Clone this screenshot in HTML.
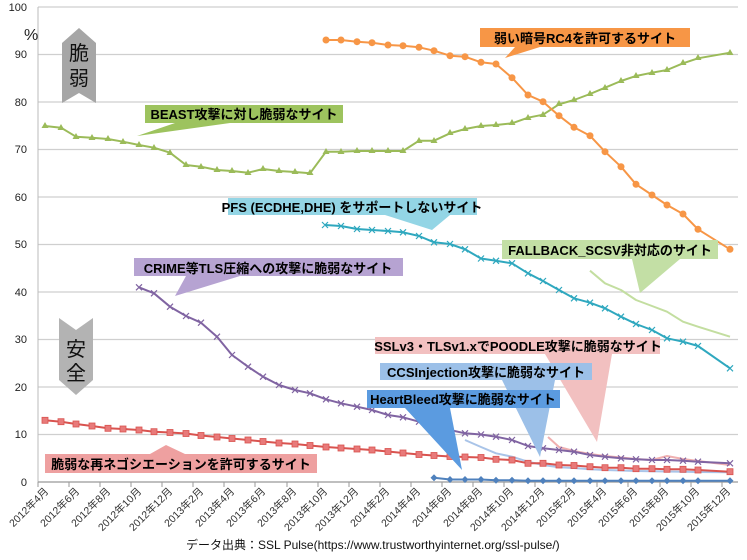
<!DOCTYPE html>
<html><head><meta charset="utf-8"><style>
html,body{margin:0;padding:0;background:#fff;}
svg{display:block;font-family:"Liberation Sans","Noto Sans CJK JP",sans-serif;}
.cl{font-weight:bold;font-size:13px;fill:#000;}
</style></head><body>
<svg width="747" height="560" viewBox="0 0 747 560" xmlns="http://www.w3.org/2000/svg">
<defs>
<g id="tri"><path d="M0,-3.5 L3.5,2.5 L-3.5,2.5Z" fill="#9bbb59"/></g>
</defs>
<!-- grid -->
<g stroke="#cfcfcf" stroke-width="1.2">
<line x1="38" y1="7" x2="738" y2="7"/><line x1="38" y1="54.5" x2="738" y2="54.5"/><line x1="38" y1="102" x2="738" y2="102"/><line x1="38" y1="149.5" x2="738" y2="149.5"/><line x1="38" y1="197" x2="738" y2="197"/><line x1="38" y1="244.5" x2="738" y2="244.5"/><line x1="38" y1="292" x2="738" y2="292"/><line x1="38" y1="339.5" x2="738" y2="339.5"/><line x1="38" y1="387" x2="738" y2="387"/><line x1="38" y1="434.5" x2="738" y2="434.5"/>
</g>
<line x1="38" y1="7" x2="38" y2="482" stroke="#bbb"/>
<line x1="38" y1="482" x2="738" y2="482" stroke="#999" stroke-width="1.2"/>
<g stroke="#999">
<path d="M38,482v5M69,482v5M100,482v5M131,482v5M162,482v5M193,482v5M224,482v5M255,482v5M287,482v5M318,482v5M349,482v5M380,482v5M411,482v5M442,482v5M473,482v5M504,482v5M535,482v5M566,482v5M597,482v5M628,482v5M660,482v5M691,482v5M722,482v5"/>
</g>
<!-- y labels -->
<g font-size="11" fill="#222" text-anchor="end">
<text x="27" y="11">100</text><text x="27" y="58">90</text><text x="27" y="106">80</text><text x="27" y="153">70</text><text x="27" y="201">60</text><text x="27" y="248">50</text><text x="27" y="296">40</text><text x="27" y="343">30</text><text x="27" y="391">20</text><text x="27" y="438">10</text><text x="27" y="486">0</text>
</g>
<text x="24" y="40" font-size="16" fill="#222">%</text>
<!-- x labels -->
<g font-size="10.5" fill="#333" text-anchor="end">
<text transform="translate(49,492) rotate(-45)">2012年4月</text>
<text transform="translate(80,492) rotate(-45)">2012年6月</text>
<text transform="translate(111,492) rotate(-45)">2012年8月</text>
<text transform="translate(142,492) rotate(-45)">2012年10月</text>
<text transform="translate(173,492) rotate(-45)">2012年12月</text>
<text transform="translate(204,492) rotate(-45)">2013年2月</text>
<text transform="translate(235,492) rotate(-45)">2013年4月</text>
<text transform="translate(266,492) rotate(-45)">2013年6月</text>
<text transform="translate(297,492) rotate(-45)">2013年8月</text>
<text transform="translate(328,492) rotate(-45)">2013年10月</text>
<text transform="translate(359,492) rotate(-45)">2013年12月</text>
<text transform="translate(390,492) rotate(-45)">2014年2月</text>
<text transform="translate(421,492) rotate(-45)">2014年4月</text>
<text transform="translate(452,492) rotate(-45)">2014年6月</text>
<text transform="translate(483,492) rotate(-45)">2014年8月</text>
<text transform="translate(514,492) rotate(-45)">2014年10月</text>
<text transform="translate(545,492) rotate(-45)">2014年12月</text>
<text transform="translate(576,492) rotate(-45)">2015年2月</text>
<text transform="translate(607,492) rotate(-45)">2015年4月</text>
<text transform="translate(638,492) rotate(-45)">2015年6月</text>
<text transform="translate(669,492) rotate(-45)">2015年8月</text>
<text transform="translate(700,492) rotate(-45)">2015年10月</text>
<text transform="translate(731,492) rotate(-45)">2015年12月</text>
</g>
<text x="186" y="549" font-size="12" fill="#111">データ出典：SSL Pulse(https://www.trustworthyinternet.org/ssl-pulse/)</text>

<!-- gray arrows -->
<path d="M79,28 L96,43 L96,103 L79,93 L62,103 L62,43Z" fill="#a6a6a6"/>
<text x="79" y="60" font-size="20" text-anchor="middle" fill="#111">脆</text>
<text x="79" y="85" font-size="20" text-anchor="middle" fill="#111">弱</text>
<path d="M59,318 L76,330 L93,318 L93,380 L76,395 L59,380Z" fill="#b3b3b3"/>
<text x="76" y="356" font-size="20" text-anchor="middle" fill="#111">安</text>
<text x="76" y="380" font-size="20" text-anchor="middle" fill="#111">全</text>

<!-- series -->
<g fill="none" stroke-linejoin="round" stroke-width="2">
<polyline stroke="#f0b0b0" points="548,437 559,447 574,451 590,454 605,456 621,457.5 636,459 652,460 667,456 683,459 698,461 730,465"/>
<polyline stroke="#a9c4e8" points="465,440 481,447 496,453.3 512,456.7 528,461.7 543,465 559,467.3 574,468 590,469.3 605,470 621,470.5 636,471 652,471.3 667,471.5 683,471.8 698,472 730,472.3"/>
<polyline stroke="#c3dea0" points="590,270.7 605,283.3 621,290 636,300 652,306 667,311.7 683,321.7 698,326.7 730,336.7"/>
<polyline id="pg" stroke="#9bbb59" points="45,126 61,127.7 76,136.7 92,137.7 108,139 123,141.7 139,145 154,147.7 170,152.7 186,165 201,166.7 217,170 232,171 248,172.7 263,169 279,171 295,172 310,173.3 326,151.7 341,151.7 357,151 372,151 388,151 403,151 419,140.7 434,140.7 450,133.3 465,129 481,126 496,125 512,123.3 528,117.7 543,114.7 559,104.3 574,100 590,94 605,87.7 621,81 636,76 652,72.7 667,70 683,63.3 698,58.3 730,52.7"/>
<polyline stroke="#f79646" points="326,40 341,40 357,41.7 372,42.7 388,45 403,45.7 419,47.3 434,50.7 450,55.7 465,56.7 481,62.3 496,64 512,77.7 528,95 543,101.7 559,115.7 574,127.3 590,135.7 605,151.7 621,166.7 636,184.3 652,195 667,205 683,214 698,229.3 730,249.3"/>
<polyline stroke="#2fa8bf" points="325,225 341,226 357,229 372,230 388,231 403,232.3 419,236 434,242.3 450,244 465,249.3 481,258.5 496,260.8 512,263.3 528,273.3 543,281 559,290 574,298.3 590,302.7 605,308.3 621,316.7 636,324 652,330 667,338.3 683,341.7 698,346 730,368.3"/>
<polyline stroke="#8064a2" points="139,287.3 154,293.3 170,306.7 186,316 201,322.7 217,336.7 232,355 248,366.7 263,376.7 279,385 295,390 310,393.3 326,399.3 341,403.3 357,406.7 372,410 388,415 403,417.3 419,421.7 434,425 450,430 465,433.3 481,434.5 496,436.7 512,440 528,446 543,448.3 559,450 574,451.7 590,455 605,456.7 621,458.3 636,459.3 652,460 667,460 683,460.7 698,461.7 730,463.3"/>
<polyline stroke="#d9534f" points="45,420.3 61,421.7 76,424 92,426 108,428.3 123,429 139,430 154,431.7 170,432.5 186,433.5 201,435.5 217,437 232,438.5 248,440 263,441.5 279,443 295,444 310,445.5 326,447 341,448 357,449 372,450 388,451.5 403,453 419,454.5 434,455.5 450,456.5 465,457 481,457.5 496,459.3 512,460 528,463.3 543,463.3 559,465 574,465.5 590,466.7 605,467.7 621,467.7 636,468.7 652,468.7 667,469.3 683,469.3 698,470 730,471.7"/>
<polyline stroke="#4f81bd" points="434,477.7 450,479.5 465,479.5 481,479.5 496,480.3 512,480.3 528,480.8 543,480.8 559,480.8 574,480.8 590,480.8 605,480.8 621,480.8 636,480.8 652,480.8 667,480.8 683,480.8 698,480.8 730,480.8"/>
</g>
<!-- markers -->
<g fill="#9bbb59">
<path d="M45,122l3.5,6h-7zM61,124l3.5,6h-7zM76,133l3.5,6h-7zM92,134l3.5,6h-7zM108,135l3.5,6h-7zM123,138l3.5,6h-7zM139,141l3.5,6h-7zM154,144l3.5,6h-7zM170,149l3.5,6h-7zM186,161l3.5,6h-7zM201,163l3.5,6h-7zM217,166l3.5,6h-7zM232,167l3.5,6h-7zM248,169l3.5,6h-7zM263,165l3.5,6h-7zM279,167l3.5,6h-7zM295,168l3.5,6h-7zM310,169l3.5,6h-7zM326,148l3.5,6h-7zM341,148l3.5,6h-7zM357,147l3.5,6h-7zM372,147l3.5,6h-7zM388,147l3.5,6h-7zM403,147l3.5,6h-7zM419,137l3.5,6h-7zM434,137l3.5,6h-7zM450,129l3.5,6h-7zM465,125l3.5,6h-7zM481,122l3.5,6h-7zM496,121l3.5,6h-7zM512,119l3.5,6h-7zM528,114l3.5,6h-7zM543,111l3.5,6h-7zM559,100l3.5,6h-7zM574,96l3.5,6h-7zM590,90l3.5,6h-7zM605,84l3.5,6h-7zM621,77l3.5,6h-7zM636,72l3.5,6h-7zM652,69l3.5,6h-7zM667,66l3.5,6h-7zM683,59l3.5,6h-7zM698,54l3.5,6h-7zM730,49l3.5,6h-7z"/>
</g>
<g fill="#f79646">
<circle cx="326" cy="40" r="3.5"/><circle cx="341" cy="40" r="3.5"/><circle cx="357" cy="41.7" r="3.5"/><circle cx="372" cy="42.7" r="3.5"/><circle cx="388" cy="45" r="3.5"/><circle cx="403" cy="45.7" r="3.5"/><circle cx="419" cy="47.3" r="3.5"/><circle cx="434" cy="50.7" r="3.5"/><circle cx="450" cy="55.7" r="3.5"/><circle cx="465" cy="56.7" r="3.5"/><circle cx="481" cy="62.3" r="3.5"/><circle cx="496" cy="64" r="3.5"/><circle cx="512" cy="77.7" r="3.5"/><circle cx="528" cy="95" r="3.5"/><circle cx="543" cy="101.7" r="3.5"/><circle cx="559" cy="115.7" r="3.5"/><circle cx="574" cy="127.3" r="3.5"/><circle cx="590" cy="135.7" r="3.5"/><circle cx="605" cy="151.7" r="3.5"/><circle cx="621" cy="166.7" r="3.5"/><circle cx="636" cy="184.3" r="3.5"/><circle cx="652" cy="195" r="3.5"/><circle cx="667" cy="205" r="3.5"/><circle cx="683" cy="214" r="3.5"/><circle cx="698" cy="229.3" r="3.5"/><circle cx="730" cy="249.3" r="3.5"/>
</g>
<g fill="#e87a7a" stroke="#d9534f" stroke-width="0.8">
<rect x="42" y="417.3" width="6" height="6"/><rect x="58" y="418.7" width="6" height="6"/><rect x="73" y="421" width="6" height="6"/><rect x="89" y="423" width="6" height="6"/><rect x="105" y="425.3" width="6" height="6"/><rect x="120" y="426" width="6" height="6"/><rect x="136" y="427" width="6" height="6"/><rect x="151" y="428.7" width="6" height="6"/><rect x="167" y="429.5" width="6" height="6"/><rect x="183" y="430.5" width="6" height="6"/><rect x="198" y="432.5" width="6" height="6"/><rect x="214" y="434" width="6" height="6"/><rect x="229" y="435.5" width="6" height="6"/><rect x="245" y="437" width="6" height="6"/><rect x="260" y="438.5" width="6" height="6"/><rect x="276" y="440" width="6" height="6"/><rect x="292" y="441" width="6" height="6"/><rect x="307" y="442.5" width="6" height="6"/><rect x="323" y="444" width="6" height="6"/><rect x="338" y="445" width="6" height="6"/><rect x="354" y="446" width="6" height="6"/><rect x="369" y="447" width="6" height="6"/><rect x="385" y="448.5" width="6" height="6"/><rect x="400" y="450" width="6" height="6"/><rect x="416" y="451.5" width="6" height="6"/><rect x="431" y="452.5" width="6" height="6"/><rect x="447" y="453.5" width="6" height="6"/><rect x="462" y="454" width="6" height="6"/><rect x="478" y="454.5" width="6" height="6"/><rect x="493" y="456.3" width="6" height="6"/><rect x="509" y="457" width="6" height="6"/><rect x="525" y="460.3" width="6" height="6"/><rect x="540" y="460.3" width="6" height="6"/><rect x="556" y="462" width="6" height="6"/><rect x="571" y="462.5" width="6" height="6"/><rect x="587" y="463.7" width="6" height="6"/><rect x="602" y="464.7" width="6" height="6"/><rect x="618" y="464.7" width="6" height="6"/><rect x="633" y="465.7" width="6" height="6"/><rect x="649" y="465.7" width="6" height="6"/><rect x="664" y="466.3" width="6" height="6"/><rect x="680" y="466.3" width="6" height="6"/><rect x="695" y="467" width="6" height="6"/><rect x="727" y="468.7" width="6" height="6"/>
</g>
<g stroke="#8064a2" stroke-width="1.2">
<path d="M136,284.3l6,6m0,-6l-6,6M151,290.3l6,6m0,-6l-6,6M167,303.7l6,6m0,-6l-6,6M183,313l6,6m0,-6l-6,6M198,319.7l6,6m0,-6l-6,6M214,333.7l6,6m0,-6l-6,6M229,352l6,6m0,-6l-6,6M245,363.7l6,6m0,-6l-6,6M260,373.7l6,6m0,-6l-6,6M276,382l6,6m0,-6l-6,6M292,387l6,6m0,-6l-6,6M307,390.3l6,6m0,-6l-6,6M323,396.3l6,6m0,-6l-6,6M338,400.3l6,6m0,-6l-6,6M354,403.7l6,6m0,-6l-6,6M369,407l6,6m0,-6l-6,6M385,412l6,6m0,-6l-6,6M400,414.3l6,6m0,-6l-6,6M416,418.7l6,6m0,-6l-6,6M431,422l6,6m0,-6l-6,6M447,427l6,6m0,-6l-6,6M462,430.3l6,6m0,-6l-6,6M478,431.5l6,6m0,-6l-6,6M493,433.7l6,6m0,-6l-6,6M509,437l6,6m0,-6l-6,6M525,443l6,6m0,-6l-6,6M540,445.3l6,6m0,-6l-6,6M556,447l6,6m0,-6l-6,6M571,448.7l6,6m0,-6l-6,6M587,452l6,6m0,-6l-6,6M602,453.7l6,6m0,-6l-6,6M618,455.3l6,6m0,-6l-6,6M633,456.3l6,6m0,-6l-6,6M649,457l6,6m0,-6l-6,6M664,457l6,6m0,-6l-6,6M680,457.7l6,6m0,-6l-6,6M695,458.7l6,6m0,-6l-6,6M727,460.3l6,6m0,-6l-6,6"/>
</g>
<g stroke="#2fa8bf" stroke-width="1.2">
<path d="M322,222l6,6m0,-6l-6,6M338,223l6,6m0,-6l-6,6M354,226l6,6m0,-6l-6,6M369,227l6,6m0,-6l-6,6M385,228l6,6m0,-6l-6,6M400,229.3l6,6m0,-6l-6,6M416,233l6,6m0,-6l-6,6M431,239.3l6,6m0,-6l-6,6M447,241l6,6m0,-6l-6,6M462,246.3l6,6m0,-6l-6,6M478,255.5l6,6m0,-6l-6,6M493,257.8l6,6m0,-6l-6,6M509,260.3l6,6m0,-6l-6,6M525,270.3l6,6m0,-6l-6,6M540,278l6,6m0,-6l-6,6M556,287l6,6m0,-6l-6,6M571,295.3l6,6m0,-6l-6,6M587,299.7l6,6m0,-6l-6,6M602,305.3l6,6m0,-6l-6,6M618,313.7l6,6m0,-6l-6,6M633,321l6,6m0,-6l-6,6M649,327l6,6m0,-6l-6,6M664,335.3l6,6m0,-6l-6,6M680,338.7l6,6m0,-6l-6,6M695,343l6,6m0,-6l-6,6M727,365.3l6,6m0,-6l-6,6"/>
</g>
<g fill="#4f81bd">
<path d="M434,474.2l3.5,3.5l-3.5,3.5l-3.5,-3.5zM450,476l3.5,3.5l-3.5,3.5l-3.5,-3.5zM465,476l3.5,3.5l-3.5,3.5l-3.5,-3.5zM481,476l3.5,3.5l-3.5,3.5l-3.5,-3.5zM496,476.8l3.5,3.5l-3.5,3.5l-3.5,-3.5zM512,476.8l3.5,3.5l-3.5,3.5l-3.5,-3.5zM528,477.3l3.5,3.5l-3.5,3.5l-3.5,-3.5zM543,477.3l3.5,3.5l-3.5,3.5l-3.5,-3.5zM559,477.3l3.5,3.5l-3.5,3.5l-3.5,-3.5zM574,477.3l3.5,3.5l-3.5,3.5l-3.5,-3.5zM590,477.3l3.5,3.5l-3.5,3.5l-3.5,-3.5zM605,477.3l3.5,3.5l-3.5,3.5l-3.5,-3.5zM621,477.3l3.5,3.5l-3.5,3.5l-3.5,-3.5zM636,477.3l3.5,3.5l-3.5,3.5l-3.5,-3.5zM652,477.3l3.5,3.5l-3.5,3.5l-3.5,-3.5zM667,477.3l3.5,3.5l-3.5,3.5l-3.5,-3.5zM683,477.3l3.5,3.5l-3.5,3.5l-3.5,-3.5zM698,477.3l3.5,3.5l-3.5,3.5l-3.5,-3.5zM730,477.3l3.5,3.5l-3.5,3.5l-3.5,-3.5z"/>
</g>

<!-- callouts -->
<path d="M480,28H690V47H540L505,58L515,47H480Z" fill="#f79646"/>
<text class="cl" x="585" y="43" text-anchor="middle">弱い暗号RC4を許可するサイト</text>

<path d="M145,105H343V123H230L137,136L175,123H145Z" fill="#9dc35e"/>
<text class="cl" x="244" y="119" text-anchor="middle">BEAST攻撃に対し脆弱なサイト</text>

<path d="M228,198H477V215H450L432,230L385,215H228Z" fill="#93d5e5"/>
<text class="cl" x="352" y="212" text-anchor="middle">PFS (ECDHE,DHE) をサポートしないサイト</text>

<path d="M502,240H718V259H680L640,293L632,259H502Z" fill="#c3dfa5"/>
<text class="cl" x="610" y="255" text-anchor="middle">FALLBACK_SCSV非対応のサイト</text>

<path d="M134,258H403V276H240L175,296L186,276H134Z" fill="#b6a3d2"/>
<text class="cl" x="268" y="273" text-anchor="middle">CRIME等TLS圧縮への攻撃に脆弱なサイト</text>

<path d="M375,337H660V354H612L597,442L545,354H375Z" fill="#f2c0c0"/>
<text class="cl" x="518" y="351" text-anchor="middle">SSLv3・TLSv1.xでPOODLE攻撃に脆弱なサイト</text>

<path d="M380,363H592V380H555L540,457L502,380H380Z" fill="#9cc0e8"/>
<text class="cl" x="486" y="377" text-anchor="middle">CCSInjection攻撃に脆弱なサイト</text>

<path d="M367,390H560V408H450L462,470L405,408H367Z" fill="#5b9be0"/>
<text class="cl" x="463" y="404" text-anchor="middle">HeartBleed攻撃に脆弱なサイト</text>

<path d="M45,454H317V473H45Z M150,454L166,445L185,454Z" fill="#eea0a0"/>
<text class="cl" x="181" y="469" text-anchor="middle">脆弱な再ネゴシエーションを許可するサイト</text>
</svg>
</body></html>
